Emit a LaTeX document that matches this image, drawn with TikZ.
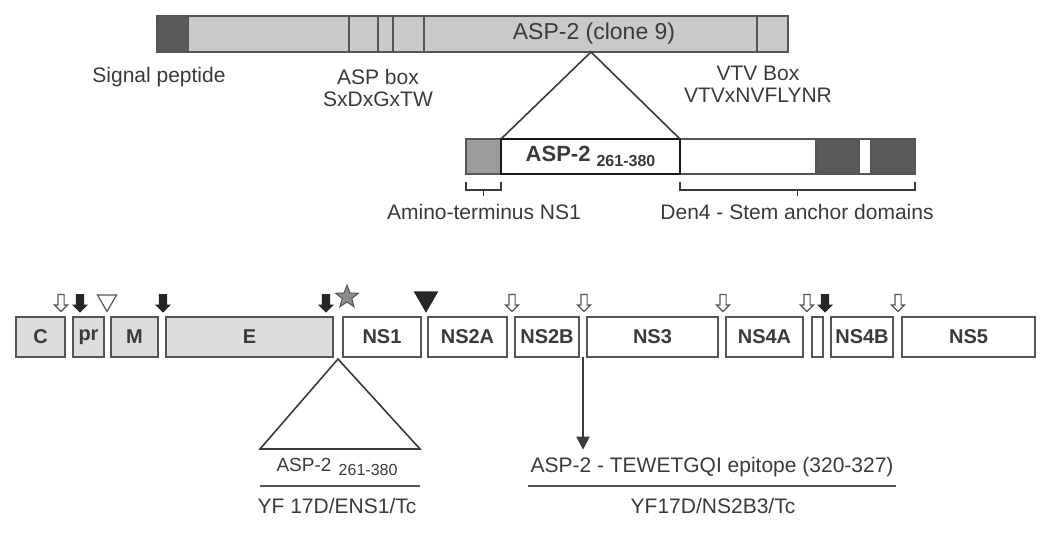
\documentclass[tikz,border=0pt]{standalone}
\usepackage{fontspec}
\setmainfont{Liberation Sans}
\usetikzlibrary{shapes,arrows.meta,calc}
\definecolor{txtgray}{HTML}{3A3A3A}
\definecolor{edgegray}{HTML}{555555}
\definecolor{barfill}{HTML}{C9C9C9}
\definecolor{darkfill}{HTML}{5A5A5A}
\definecolor{midfill}{HTML}{9C9C9C}
\definecolor{protfill}{HTML}{DDDDDD}
\definecolor{starfill}{HTML}{8C8C8C}

\begin{document}
\begin{tikzpicture}[x=1pt,y=-1pt,
	every node/.style={text=txtgray,font=\fontsize{21}{22}\selectfont},
	seg/.style={draw=edgegray,line width=2pt,anchor=west,inner sep=0pt,outer sep=0pt,minimum height=35pt},
	prot/.style={draw=edgegray,line width=2pt,anchor=west,inner sep=0pt,outer sep=0pt,minimum height=40pt,
		font=\bfseries\fontsize{20}{20}\selectfont},
	cleave/.style={single arrow,shape border rotate=270,draw=edgegray,fill=white,line width=1.2pt,
		minimum height=17pt,minimum width=5pt,single arrow head extend=3.5pt,inner sep=2.5pt},
	cleavedark/.style={cleave,draw=black!85,fill=black!85,inner sep=3pt,single arrow head extend=3pt},
	tri/.style={regular polygon,regular polygon sides=3,shape border rotate=180,line width=1.2pt,inner sep=0pt},
	conn/.style={draw=txtgray,line width=1.6pt},
	rule/.style={draw=edgegray,line width=2.5pt}
	]
	\useasboundingbox (0,0) rectangle (1054,536);
	
	% ASP-2 clone 9
	\node[seg,minimum height=36pt,minimum width=631pt,fill=barfill] (clone) at (157,34) {};
	\node[seg,minimum height=36pt,minimum width=31pt,fill=darkfill] (sigpep) at (157,34) {};
	\foreach \xx in {349,378,393,424,757}
		\draw[draw=edgegray,line width=2pt] (\xx,16) -- (\xx,52);
	\node[font=\fontsize{23}{23}\selectfont] (clonelbl) at (594,34) {ASP-2 (clone 9)};
	\node (sigpeplbl) at (159,77) {Signal peptide};
	\node[align=center] (aspbox) at (378,88) {ASP box\\SxDxGxTW};
	\node[align=center] (vtvbox) at (758,84) {VTV Box\\VTVxNVFLYNR};
	
	% fusion with NS1
	\node[seg,fill=midfill,minimum width=35pt] (nterm) at (466,156.5) {};
	\node[seg,fill=white,minimum width=136pt] (stem) at (680,156.5) {};
	\node[seg,fill=darkfill,minimum width=43pt] (anchorA) at (816,156.5) {};
	\node[seg,fill=white,minimum width=12pt] (hinge) at (859,156.5) {};
	\node[seg,fill=darkfill,minimum width=44pt] (anchorB) at (871,156.5) {};
	\node[seg,fill=white,draw=black!90,line width=2.8pt,minimum width=179pt,
		font=\bfseries\fontsize{22}{22}\selectfont] (insert) at (501,156.5)
		{ASP-2 \raisebox{-5pt}{\fontsize{16}{16}\selectfont 261-380}};
	
	\coordinate (apex) at (591,52);
	\draw[conn] (insert.north west) -- (apex) -- (insert.north east);
	
	\draw[conn,line width=1.2pt] ([yshift=-8pt]nterm.south west) -- ++(0,8) -| ([yshift=-8pt]nterm.south east);
	\draw[conn,line width=1.2pt] ($(nterm.south)+(0,16)$) -- ++(0,6);
	\draw[conn,line width=1.2pt] ([yshift=-8pt]stem.south west) -- ++(0,8) -| ([yshift=-8pt]anchorB.south east);
	\coordinate (stemmid) at ($(stem.south west)!0.5!(anchorB.south east)$);
	\draw[conn,line width=1.2pt] ($(stemmid)+(0,16)$) -- ++(0,6);
	\node (ntermlbl) at (484,212) {Amino-terminus NS1};
	\node (stemlbl) at (797,212) {Den4 - Stem anchor domains};
	
	% YF 17D polyprotein
	\foreach \nm/\xx/\w/\lab/\fc in {C/16/49/C/protfill, pr/73/31/pr/protfill, M/111/47/M/protfill,
		E/166/167/E/protfill, NSone/343/78/NS1/white, NStwoA/428/79/NS2A/white,
		NStwoB/515/64/NS2B/white, NSthree/587/131/NS3/white, NSfourA/726/77/NS4A/white,
		twoK/812/11//white, NSfourB/831/62/NS4B/white, NSfive/902/133/NS5/white}
		\node[prot,fill=\fc,minimum width=\w] (\nm) at (\xx,337) {\lab};
	
	\foreach \xx [count=\i] in {61,512,584,723,807,898}
		\node[cleave] (open\i) at (\xx,301.5) {};
	\foreach \xx [count=\i] in {80,163,326,825}
		\node[cleavedark] (dark\i) at (\xx,301.5) {};
	\node[tri,draw=edgegray,fill=white,minimum size=22pt] (signalase) at (107,300.5) {};
	\node[tri,draw=black!85,fill=black!85,minimum size=26pt] (ns1cut) at (426,298.5) {};
	\node[star,star points=5,star point ratio=2.4,draw=edgegray,line width=1pt,fill=starfill,
		minimum size=24pt,inner sep=0pt] (glyco) at (347,297) {};
	
	% constructs
	\coordinate (split) at ($(E.south east)!0.5!(NSone.south west)$);
	\draw[conn] ([yshift=-2pt]split) -- (260,449) -- (420,449) -- cycle;
	\node (enslbl) at (337,467) {\fontsize{19}{19}\selectfont ASP-2\hspace{2pt} \raisebox{-4pt}{\fontsize{16}{16}\selectfont 261-380}};
	\draw[rule] (260,486) -- (420,486);
	\node (enscon) at (337,506) {YF 17D/ENS1/Tc};
	
	\coordinate (cut) at ($(NStwoB.south east)!0.5!(NSthree.south west)$);
	\node (epilbl) at (712,467) {ASP-2 - TEWETGQI epitope (320-327)};
	\draw[conn,line width=2pt,-{Triangle[width=13pt,length=13pt]},shorten >=4pt] (cut) -- (cut |- epilbl.north);
	\draw[rule] (528,486) -- (896,486);
	\node (nscon) at (713,506) {YF17D/NS2B3/Tc};
\end{tikzpicture}
\end{document}
